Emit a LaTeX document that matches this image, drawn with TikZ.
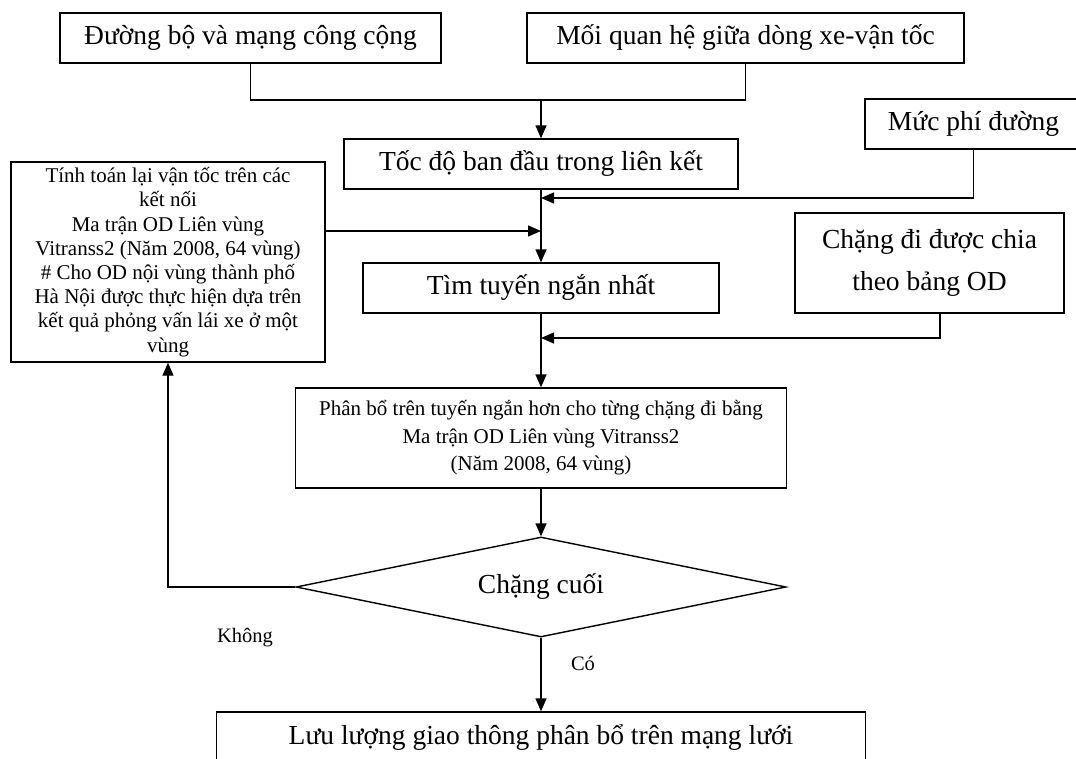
\documentclass[tikz,border=0pt]{standalone}
\usepackage{fontspec}
\setmainfont{Liberation Serif}
\usetikzlibrary{arrows.meta,shapes.geometric}
\begin{document}
\begin{tikzpicture}[x=1pt,y=-1pt,
  box/.style={draw,line width=1.4pt,inner sep=0pt,align=center,
              font=\fontsize{27.5}{33}\selectfont},
  link/.style={line width=1.4pt},
  flow/.style={line width=1.4pt,-{Triangle[length=13pt,width=11pt]}},
  lbl/.style={inner sep=0pt,font=\fontsize{20.5}{24}\selectfont}]
\useasboundingbox (0,0) rectangle (1076,758);
\clip (0,0) rectangle (1076,758);

% inputs
\node[box,minimum width=381pt,minimum height=50pt] (road) at (250.5,38) {Đường bộ và mạng công cộng};
\node[box,minimum width=437pt,minimum height=50pt] (rel) at (745.5,38) {Mối quan hệ giữa dòng xe-vận tốc};
\node[box,minimum width=394pt,minimum height=50pt] (speed) at (541,164) {Tốc độ ban đầu trong liên kết};
\node[box,minimum width=217pt,minimum height=50pt] (fee) at (973.5,124) {Mức phí đường};

% recalculation box
\node[box,minimum width=314pt,minimum height=200pt,
      font=\fontsize{21}{24.2}\selectfont] (recalc) at (168,262)
  {Tính toán lại vận tốc trên các\\kết nối\\Ma trận OD Liên vùng\\Vitranss2 (Năm 2008, 64 vùng)\\\# Cho OD nội vùng thành phố\\Hà Nội được thực hiện dựa trên\\kết quả phỏng vấn lái xe ở một\\vùng};

% main chain
\node[box,minimum width=356pt,minimum height=50pt] (route) at (541,288) {Tìm tuyến ngắn nhất};
\node[box,minimum width=269pt,minimum height=100pt,
      font=\fontsize{27.5}{42}\selectfont] (legs) at (929.5,263) {Chặng đi được chia\\theo bảng OD};
\node[box,minimum width=491pt,minimum height=100pt,
      font=\fontsize{21}{27.5}\selectfont] (assign) at (541,438)
  {Phân bổ trên tuyến ngắn hơn cho từng chặng đi bằng\\Ma trận OD Liên vùng Vitranss2\\(Năm 2008, 64 vùng)};
\node[box,diamond,aspect=4.9,minimum width=490pt,minimum height=100pt] (last) at (541,587) {Chặng cuối};
\node[box,minimum width=649pt,minimum height=50pt] (out) at (541,737) {Lưu lượng giao thông phân bổ trên mạng lưới};

% junction points on the main line
\coordinate (j1) at (541,100);
\coordinate (j2) at (541,198);
\coordinate (j3) at (541,231);
\coordinate (j4) at (541,338);

% connectors
\draw[link] (road.south) |- (j1);
\draw[link] (rel.south) |- (j1);
\draw[flow] (j1) -- (speed.north);
\draw[flow] (fee.south) |- (j2);
\draw[flow] (speed.south) -- (route.north);
\draw[flow] (recalc.east |- j3) -- (j3);
\draw[flow] ([xshift=10.5pt]legs.south) |- (j4);
\draw[flow] (route.south) -- (assign.north);
\draw[flow] (assign.south) -- (last.north);
\draw[flow] (last.west) -| (recalc.south);
\draw[flow] (last.south) -- (out.north);

% branch labels
\node[lbl] (no) at (245,638) {Không};
\node[lbl] (yes) at (583,663) {Có};
\end{tikzpicture}
\end{document}
